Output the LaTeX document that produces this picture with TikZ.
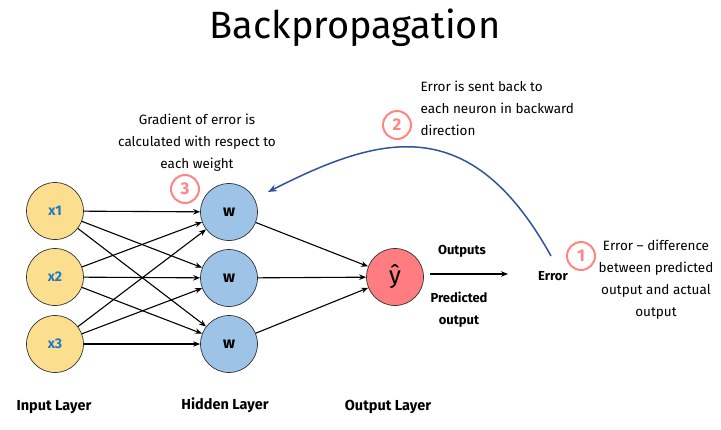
\documentclass[tikz,border=0pt]{standalone}
\usepackage{fontspec}
\setmainfont{Fira Sans}
\usepackage{tikz}
\usetikzlibrary{positioning,arrows.meta}

\definecolor{inyellow}{HTML}{FCDF8E}
\definecolor{hidblue}{HTML}{9DC3E6}
\definecolor{outred}{HTML}{FF7C80}
\definecolor{steppink}{HTML}{FF8585}
\definecolor{backblue}{HTML}{2F5597}
\definecolor{xblue}{HTML}{1F78C8}

\tikzset{
  neuron/.style={circle,draw=black!80,line width=.7pt,minimum size=57pt,inner sep=0pt},
  stepno/.style={circle,draw=steppink,line width=2pt,fill=white,minimum size=28pt,
    inner sep=0pt,text=steppink,font=\fontsize{17}{17}\selectfont\bfseries},
  note/.style={align=center,font=\fontsize{13.5}{22}\selectfont},
  layerlbl/.style={font=\fontsize{14.5}{14.5}\selectfont\bfseries},
  wire/.style={-{Stealth[length=7pt,width=5.5pt]},line width=1.1pt}
}

\begin{document}
\begin{tikzpicture}[x=1pt,y=-1pt]
  \useasboundingbox (0,0) rectangle (721,429);
  \node[font=\fontsize{38}{38}\selectfont] (title) at (355,28) {Backpropagation};

  % input layer
  \foreach \i/\y in {1/211,2/277,3/344}
    \node[neuron,fill=inyellow,text=xblue,font=\fontsize{14}{14}\selectfont\bfseries] (x\i) at (55,\y) {x\i};
  % hidden layer
  \foreach \i/\y in {1/212,2/278,3/344}
    \node[neuron,fill=hidblue,font=\fontsize{16}{16}\selectfont\bfseries] (w\i) at (229,\y) {w};
  % output
  \node[neuron,fill=outred,font=\fontsize{24}{24}\selectfont] (yhat) at (395,277) {ŷ};

  \foreach \i in {1,2,3}
    \foreach \j in {1,2,3}
      \draw[wire] (x\i) -- (w\j);
  \foreach \j in {1,2,3}
    \draw[wire] (w\j) -- (yhat);

  \coordinate (outstart) at (430,274);
  \coordinate (outend) at (508,274);
  \draw[wire] (outstart) -- (outend);
  \node[font=\fontsize{13}{13}\selectfont\bfseries] (outs) at (462,251) {Outputs};
  \node[note,font=\fontsize{13}{22}\selectfont\bfseries] (pred) at (459,310) {Predicted\\output};
  \node[font=\fontsize{13}{13}\selectfont\bfseries] (err) at (553,276) {Error};

  % backward pass
  \coordinate (backstart) at (551,256);
  \draw[backblue,line width=1.5pt,-{Stealth[length=9pt,width=7pt]}]
    (backstart) .. controls (470,110) and (380,135) .. (268,192);

  % steps
  \node[stepno] (s1) at (581,256) {1};
  \node[note] (n1) at (656,280) {Error -- difference\\between predicted\\output and actual\\output};
  \node[stepno] (s2) at (397,125) {2};
  \node[note,align=left,anchor=west] (n2) at (417,108) {Error is sent back to\\each neuron in backward\\direction};
  \node[stepno] (s3) at (185,189) {3};
  \node[note] (n3) at (197,143) {Gradient of error is\\calculated with respect to\\each weight};

  % layer names
  \node[layerlbl] (inl) at (54,407) {Input Layer};
  \node[layerlbl] (hidl) at (225,405) {Hidden Layer};
  \node[layerlbl] (outl) at (388,407) {Output Layer};
\end{tikzpicture}
\end{document}
